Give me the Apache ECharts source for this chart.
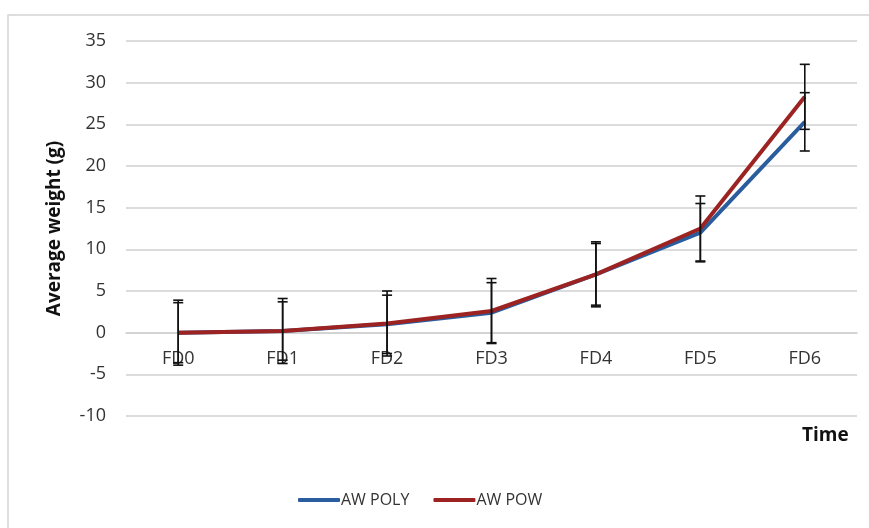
<!DOCTYPE html>
<html>
<head>
<meta charset="utf-8">
<script src="https://cdn.jsdelivr.net/npm/echarts@6/dist/echarts.min.js"></script>
<style>
  html, body { margin: 0; padding: 0; background: #fff; }
  #chart { width: 869px; height: 528px; }
</style>
</head>
<body>
<div id="chart"></div>
<script>
// Feeding days and average weights (g) with standard deviations
var categories = ['FD0', 'FD1', 'FD2', 'FD3', 'FD4', 'FD5', 'FD6'];
var polyMean = [0.0, 0.2, 1.0, 2.4, 7.0, 12.0, 25.3];
var polyErr  = [3.6, 3.5, 3.5, 3.6, 3.7, 3.5, 3.5];
var powMean  = [0.0, 0.2, 1.1, 2.6, 7.0, 12.5, 28.3];
var powErr   = [3.9, 3.9, 3.9, 3.9, 3.9, 3.9, 3.9];
var yTicks = { min: -10, max: 35, step: 5 };

var FONT = '"Open Sans", "Liberation Sans", sans-serif';
var GRID = { left: 126, right: 12, top: 41, bottom: 112 };

function errorData(mean, err) {
  return mean.map(function (m, i) { return [i, m - err[i], m + err[i]]; });
}

function renderErrorBar(params, api) {
  var x = api.value(0);
  var lo = api.coord([x, api.value(1)]);
  var hi = api.coord([x, api.value(2)]);
  var cap = 5;
  var style = { stroke: '#111', lineWidth: 1.6 };
  return {
    type: 'group',
    children: [
      { type: 'line', shape: { x1: lo[0], y1: lo[1], x2: hi[0], y2: hi[1] }, style: style },
      { type: 'line', shape: { x1: hi[0] - cap, y1: hi[1], x2: hi[0] + cap, y2: hi[1] }, style: style },
      { type: 'line', shape: { x1: lo[0] - cap, y1: lo[1], x2: lo[0] + cap, y2: lo[1] }, style: style }
    ]
  };
}

// The category axis sits on the zero line: lift it by the height of the
// band below zero (0 to yTicks.min) within the plot area.
var plotHeight = 528 - GRID.top - GRID.bottom;
var zeroLift = plotHeight * (0 - yTicks.min) / (yTicks.max - yTicks.min);

var chart = echarts.init(document.getElementById('chart'));
chart.setOption({
  animation: false,
  backgroundColor: '#fff',
  textStyle: { fontFamily: FONT },
  grid: { left: GRID.left, right: GRID.right, top: GRID.top, bottom: GRID.bottom, containLabel: false },
  legend: {
    left: 293,
    top: 487,
    itemWidth: 42,
    itemHeight: 4,
    itemGap: 24,
    textStyle: { fontFamily: FONT, fontSize: 16, color: '#333', padding: [0, 0, 0, -4] },
    data: [
      { name: 'AW POLY', icon: 'roundRect' },
      { name: 'AW POW', icon: 'roundRect' }
    ]
  },
  xAxis: {
    type: 'category',
    data: categories,
    boundaryGap: true,
    offset: -zeroLift,
    axisLine: { onZero: false, lineStyle: { color: '#d0d0d0', width: 1.5 } },
    axisTick: { show: false },
    axisLabel: { color: '#333', fontSize: 18, margin: 17, fontFamily: FONT }
  },
  yAxis: {
    type: 'value',
    min: yTicks.min,
    max: yTicks.max,
    interval: yTicks.step,
    name: 'Average weight (g)',
    nameLocation: 'middle',
    nameGap: 62,
    nameTextStyle: { fontSize: 19, fontWeight: 'bold', color: '#111', fontFamily: FONT },
    axisLine: { show: false },
    axisTick: { show: false },
    axisLabel: { color: '#333', fontSize: 18, margin: 20, fontFamily: FONT },
    splitLine: { lineStyle: { color: '#d0d0d0', width: 1.5 } }
  },
  graphic: [
    {
      type: 'rect',
      silent: true,
      shape: { x: 8, y: 15, width: 900, height: 600 },
      style: { fill: 'none', stroke: '#d4d4d4', lineWidth: 1.5 },
      z: -1
    },
    {
      type: 'text',
      left: 802,
      top: 426,
      style: { text: 'Time', font: 'bold 19px ' + FONT, fill: '#111' }
    }
  ],
  series: [
    {
      name: 'AW POLY',
      type: 'line',
      data: polyMean,
      symbol: 'none',
      lineStyle: { color: '#2a5d9e', width: 4 },
      itemStyle: { color: '#2a5d9e' },
      z: 2
    },
    {
      name: 'AW POW',
      type: 'line',
      data: powMean,
      symbol: 'none',
      lineStyle: { color: '#9c2321', width: 4 },
      itemStyle: { color: '#9c2321' },
      z: 3
    },
    {
      name: 'poly-err',
      type: 'custom',
      renderItem: renderErrorBar,
      data: errorData(polyMean, polyErr),
      encode: { x: 0, y: [1, 2] },
      z: 4
    },
    {
      name: 'pow-err',
      type: 'custom',
      renderItem: renderErrorBar,
      data: errorData(powMean, powErr),
      encode: { x: 0, y: [1, 2] },
      z: 4
    }
  ]
});
</script>
</body>
</html>
